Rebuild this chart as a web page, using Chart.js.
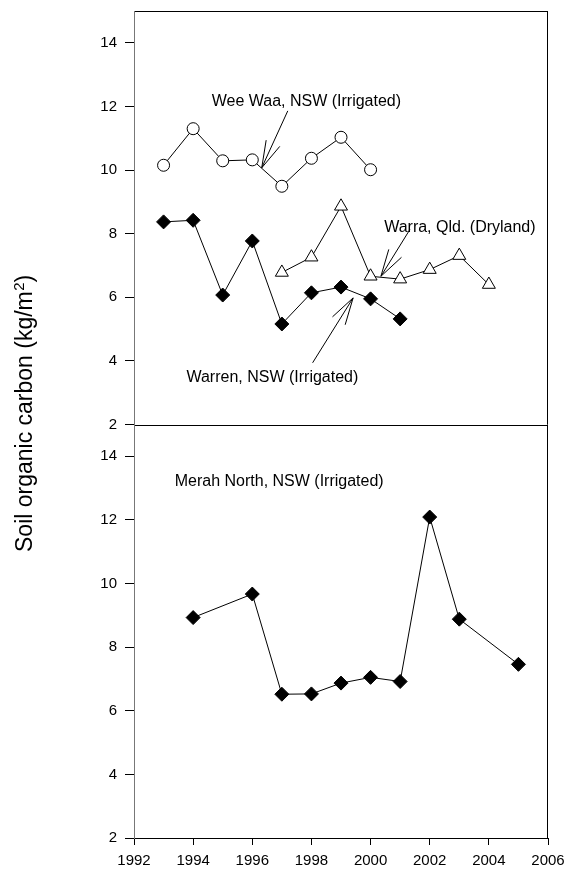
<!DOCTYPE html>
<html>
<head>
<meta charset="utf-8">
<script src="https://cdn.jsdelivr.net/npm/chart.js@4.4.1/dist/chart.umd.min.js"></script>
<style>
  html, body { margin: 0; padding: 0; background: #fff; }
</style>
</head>
<body>
<canvas id="chart" width="568" height="870"></canvas>
<script>
// Tick labels
const xTicks = [1992, 1994, 1996, 1998, 2000, 2002, 2004, 2006];
const yTicks = [2, 4, 6, 8, 10, 12, 14];

// Top panel series
const weeWaaYears = [1993, 1994, 1995, 1996, 1997, 1998, 1999, 2000];
const weeWaaValues = [10.15, 11.30, 10.29, 10.32, 9.49, 10.37, 11.03, 10.01];

const warrenYears = [1993, 1994, 1995, 1996, 1997, 1998, 1999, 2000, 2001];
const warrenValues = [8.37, 8.42, 6.07, 7.77, 5.16, 6.14, 6.32, 5.95, 5.32];

const warraYears = [1997, 1998, 1999, 2000, 2001, 2002, 2003, 2004];
const warraValues = [6.78, 7.26, 8.86, 6.66, 6.57, 6.87, 7.31, 6.40];

// Bottom panel series
const merahYears = [1994, 1996, 1997, 1998, 1999, 2000, 2001, 2002, 2003, 2005];
const merahValues = [8.93, 9.67, 6.52, 6.53, 6.87, 7.05, 6.92, 12.09, 8.88, 7.46];

const toPoints = (xs, ys) => xs.map((x, i) => ({ x: x, y: ys[i] }));

// Labels with arrows, placed in data units (year, value) of their panel
const notes = [
  { text: 'Wee Waa, NSW (Irrigated)', axis: 'yTop', x: 1997.83, y: 12.16, align: 'center',
    arrow: { from: [1997.2, 11.86], to: [1996.32, 10.07] } },
  { text: 'Warra, Qld. (Dryland)', axis: 'yTop', x: 2003.02, y: 8.20, align: 'center',
    arrow: { from: [2001.33, 8.13], to: [2000.35, 6.66] } },
  { text: 'Warren, NSW (Irrigated)', axis: 'yTop', x: 1996.68, y: 3.48, align: 'center',
    arrow: { from: [1998.04, 3.94], to: [1999.41, 5.98] } },
  { text: 'Merah North, NSW (Irrigated)', axis: 'yBottom', x: 1996.91, y: 13.21, align: 'center' }
];

Chart.defaults.font.family = "'Liberation Sans', Arial, sans-serif";
Chart.defaults.color = '#000';

function series(label, xs, ys, axis, style, fill, radius) {
  return {
    label: label,
    data: toPoints(xs, ys),
    yAxisID: axis,
    borderColor: '#000',
    borderWidth: 1,
    pointStyle: style,
    pointRadius: radius,
    pointBackgroundColor: fill,
    pointBorderColor: '#000',
    pointBorderWidth: 1,
    tension: 0,
    fill: false
  };
}

function noPad(s) {
  s.paddingTop = 0; s.paddingBottom = 0; s.paddingLeft = 0; s.paddingRight = 0;
}

function yScale() {
  return {
    type: 'linear',
    position: 'left',
    stack: 'panels',
    stackWeight: 1,
    min: 2,
    max: 15,
    afterBuildTicks: s => { s.ticks = yTicks.map(v => ({ value: v })); },
    afterFit: s => { s.width = 134; noPad(s); },
    ticks: { font: { size: 15 }, padding: 8, color: '#000' },
    grid: { display: true, drawOnChartArea: false, tickLength: 9, color: '#000' },
    border: { display: false }
  };
}

// frame around both panels, grey left axis
const framePlugin = {
  id: 'frame',
  beforeDatasetsDraw(chart) {
    const { ctx, chartArea: a } = chart;
    const mid = chart.scales.yTop.bottom;
    ctx.save();
    ctx.lineWidth = 1;
    ctx.strokeStyle = '#000';
    ctx.beginPath();
    ctx.moveTo(a.left, a.top + 0.5); ctx.lineTo(a.right, a.top + 0.5);
    ctx.moveTo(a.right - 0.5, a.top); ctx.lineTo(a.right - 0.5, a.bottom);
    ctx.moveTo(a.left, a.bottom + 0.5); ctx.lineTo(a.right, a.bottom + 0.5);
    ctx.moveTo(a.left, Math.round(mid) + 0.5); ctx.lineTo(a.right, Math.round(mid) + 0.5);
    ctx.stroke();
    ctx.strokeStyle = '#777';
    ctx.beginPath();
    ctx.moveTo(a.left + 0.5, a.top); ctx.lineTo(a.left + 0.5, a.bottom + 1);
    ctx.stroke();
    ctx.restore();
  }
};

function drawArrow(ctx, x0, y0, x1, y1) {
  const ang = Math.atan2(y0 - y1, x0 - x1);
  const len = 28, spread = 15.5 * Math.PI / 180;
  ctx.beginPath();
  ctx.moveTo(x0, y0); ctx.lineTo(x1, y1);
  ctx.moveTo(x1, y1); ctx.lineTo(x1 + len * Math.cos(ang - spread), y1 + len * Math.sin(ang - spread));
  ctx.moveTo(x1, y1); ctx.lineTo(x1 + len * Math.cos(ang + spread), y1 + len * Math.sin(ang + spread));
  ctx.stroke();
}

const notesPlugin = {
  id: 'notes',
  afterDraw(chart) {
    const { ctx } = chart;
    const xs = chart.scales.x;
    ctx.save();
    ctx.fillStyle = '#000';
    ctx.strokeStyle = '#000';
    ctx.lineWidth = 1;
    ctx.font = "16px 'Liberation Sans', Arial, sans-serif";
    ctx.textBaseline = 'middle';
    notes.forEach(n => {
      const ys = chart.scales[n.axis];
      ctx.textAlign = n.align;
      ctx.fillText(n.text, xs.getPixelForValue(n.x), ys.getPixelForValue(n.y));
      if (n.arrow) {
        drawArrow(ctx,
          xs.getPixelForValue(n.arrow.from[0]), ys.getPixelForValue(n.arrow.from[1]),
          xs.getPixelForValue(n.arrow.to[0]), ys.getPixelForValue(n.arrow.to[1]));
      }
    });

    // y axis title with superscript
    ctx.translate(32, 552);
    ctx.rotate(-Math.PI / 2);
    ctx.textAlign = 'left';
    ctx.textBaseline = 'alphabetic';
    ctx.font = "23px 'Liberation Sans', Arial, sans-serif";
    const main = 'Soil organic carbon (kg/m';
    ctx.fillText(main, 0, 0);
    let w = ctx.measureText(main).width;
    ctx.font = "15px 'Liberation Sans', Arial, sans-serif";
    ctx.fillText('2', w + 0.5, -8);
    w += ctx.measureText('2').width + 0.5;
    ctx.font = "23px 'Liberation Sans', Arial, sans-serif";
    ctx.fillText(')', w, 0);
    ctx.restore();
  }
};

new Chart(document.getElementById('chart'), {
  type: 'line',
  data: {
    datasets: [
      series('Wee Waa, NSW (Irrigated)', weeWaaYears, weeWaaValues, 'yTop', 'circle', '#fff', 6),
      series('Warren, NSW (Irrigated)', warrenYears, warrenValues, 'yTop', 'rectRot', '#000', 7),
      series('Warra, Qld. (Dryland)', warraYears, warraValues, 'yTop', 'triangle', '#fff', 7.5),
      series('Merah North, NSW (Irrigated)', merahYears, merahValues, 'yBottom', 'rectRot', '#000', 7)
    ]
  },
  options: {
    responsive: false,
    animation: false,
    devicePixelRatio: 1,
    layout: { padding: { top: 11, right: 20, left: 0, bottom: 0 } },
    plugins: { legend: { display: false }, tooltip: { enabled: false } },
    scales: {
      x: {
        type: 'linear',
        position: 'bottom',
        min: 1992,
        max: 2006,
        afterBuildTicks: s => { s.ticks = xTicks.map(v => ({ value: v })); },
        afterFit: s => { s.height = 32; noPad(s); },
        ticks: { font: { size: 15 }, padding: 7, color: '#000', callback: v => String(v) },
        grid: { display: true, drawOnChartArea: false, tickLength: 7, color: '#000' },
        border: { display: false }
      },
      // later-defined stacked axis is placed on top
      yBottom: yScale(),
      yTop: yScale()
    }
  },
  plugins: [framePlugin, notesPlugin]
});
</script>
</body>
</html>
